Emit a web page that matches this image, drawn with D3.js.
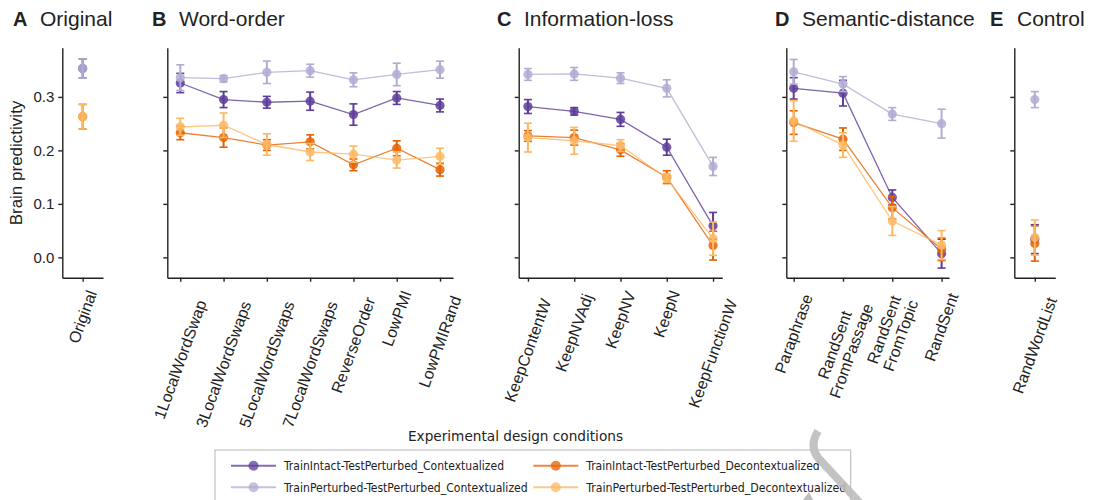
<!DOCTYPE html>
<html>
<head>
<meta charset="utf-8">
<script src="https://cdn.jsdelivr.net/npm/d3@7"></script>
<style>
  body { margin: 0; background: #fff; }
  text { font-family: "Liberation Sans", Arial, Helvetica, sans-serif; fill: #222; }
  .legend text { font-family: "Liberation Sans Narrow", "DejaVu Sans Condensed", "Liberation Sans", sans-serif; }
</style>
</head>
<body>
<svg id="chart" width="1102" height="500"></svg>
<script>
// conditions, grouped into panels
const conditions = ["Original",
  "1LocalWordSwap", "3LocalWordSwaps", "5LocalWordSwaps", "7LocalWordSwaps", "ReverseOrder", "LowPMI", "LowPMIRand",
  "KeepContentW", "KeepNVAdj", "KeepNV", "KeepN", "KeepFunctionW",
  "Paraphrase", "RandSent\nFromPassage", "RandSent\nFromTopic", "RandSent",
  "RandWordList"];
const panelOf = [0, 1,1,1,1,1,1,1, 2,2,2,2,2, 3,3,3,3, 4];
const panelLetters = ["A", "B", "C", "D", "E"];
const panelTitles = ["Original", "Word-order", "Information-loss", "Semantic-distance", "Control"];

const seriesNames = [
  "TrainIntact-TestPerturbed_Contextualized",
  "TrainPerturbed-TestPerturbed_Contextualized",
  "TrainIntact-TestPerturbed_Decontextualized",
  "TrainPerturbed-TestPerturbed_Decontextualized"];

// means and error (half-length) per condition
const tiCtxMean = [0.353, 0.326,0.295,0.290,0.292,0.267,0.298,0.284, 0.282,0.273,0.258,0.206,0.059, 0.316,0.307,0.112,0.007, 0.034];
const tiCtxErr  = [0.018, 0.018,0.015,0.011,0.017,0.020,0.012,0.012, 0.013,0.007,0.013,0.015,0.025, 0.020,0.024,0.014,0.027, 0.027];
const tpCtxMean = [0.353, 0.336,0.334,0.346,0.349,0.332,0.342,0.351, 0.342,0.343,0.335,0.316,0.170, 0.347,0.324,0.268,0.250, 0.295];
const tpCtxErr  = [0.018, 0.024,0.006,0.021,0.012,0.013,0.021,0.016, 0.011,0.012,0.010,0.016,0.017, 0.023,0.014,0.012,0.027, 0.015];
const tiDecMean = [0.263, 0.233,0.224,0.210,0.216,0.173,0.204,0.164, 0.227,0.224,0.201,0.150,0.022, 0.252,0.221,0.093,0.015, 0.026];
const tiDecErr  = [0.023, 0.013,0.018,0.010,0.013,0.011,0.014,0.012, 0.010,0.014,0.012,0.012,0.027, 0.022,0.021,0.021,0.021, 0.033];
const tpDecMean = [0.263, 0.244,0.247,0.211,0.197,0.193,0.182,0.189, 0.224,0.218,0.209,0.148,0.035, 0.255,0.210,0.068,0.023, 0.037];
const tpDecErr  = [0.023, 0.016,0.023,0.020,0.016,0.015,0.015,0.015, 0.027,0.025,0.011,0.008,0.031, 0.038,0.023,0.027,0.027, 0.033];

const yTicks = [0, 0.1, 0.2, 0.3];

const means = [tiCtxMean, tpCtxMean, tiDecMean, tpDecMean];
const errs = [tiCtxErr, tpCtxErr, tiDecErr, tpDecErr];
const colors = ["#5e3c99", "#b2abd2", "#e66101", "#fdb863"];

// layout
const yTop = 47.7, yBottom = 277.7;
const panelX0 = [62.3, 167.3, 518.7, 786.3, 1014.3];
const panelX1 = [103, 453, 722.3, 949, 1055.3];
const panelPad = [0.5, 0.3, 0.2, 0.15, 0.5];
const titleX = [13, 152, 497, 775, 990];

const svg = d3.select("#chart");
const y = d3.scaleLinear().domain([-0.038, 0.392]).range([yBottom, yTop]);

const xScales = panelLetters.map((_, p) => {
  const cats = conditions.filter((c, i) => panelOf[i] === p);
  return d3.scalePoint().domain(cats).range([panelX0[p], panelX1[p]]).padding(panelPad[p]);
});

// axes
panelLetters.forEach((letter, p) => {
  const x = xScales[p];
  const yAxis = svg.append("g")
    .attr("transform", "translate(" + panelX0[p] + ",0)")
    .call(d3.axisLeft(y).tickValues(yTicks).tickSize(4).tickSizeOuter(0)
      .tickFormat(p === 0 ? d3.format(".1f") : () => ""));
  yAxis.selectAll("text").style("font-size", "15px").attr("x", -8);

  svg.append("g")
    .attr("transform", "translate(0," + yBottom + ")")
    .call(d3.axisBottom(x).tickSize(4).tickSizeOuter(0).tickFormat(() => ""));

  // rotated tick labels, centered on the tick; longer labels sit a little lower
  x.domain().forEach(c => {
    const outer = svg.append("g");
    const t = outer.append("text")
      .attr("transform", "rotate(-70)")
      .attr("text-anchor", "middle")
      .style("font-size", "16px");
    c.split("\n").forEach((ln, i) => {
      t.append("tspan").attr("x", 0).attr("dy", i === 0 ? 0 : "1.1em").text(ln);
    });
    const bb = outer.node().getBoundingClientRect();
    const cx = (bb.left + bb.right) / 2;
    const top = 288 + Math.max(0, bb.height - 58) * 0.15;
    outer.attr("transform", "translate(" + (x(c) - cx) + "," + (top - bb.top) + ")");
  });

  // panel title
  svg.append("text").attr("x", titleX[p]).attr("y", 26)
    .style("font-size", "20px").style("font-weight", "bold").text(letter);
  svg.append("text").attr("x", titleX[p] + 27).attr("y", 26)
    .style("font-size", "21px").text(panelTitles[p]);
});

svg.selectAll(".domain, .tick line").attr("stroke", "#222").attr("stroke-width", 1.4);

// y label
svg.append("text")
  .attr("transform", "translate(22,163) rotate(-90)")
  .attr("text-anchor", "middle")
  .style("font-size", "17px")
  .text("Brain predictivity");

// series
seriesNames.forEach((name, s) => {
  const g = svg.append("g");
  panelLetters.forEach((_, p) => {
    const x = xScales[p];
    const idx = conditions.map((c, i) => i).filter(i => panelOf[i] === p);
    const line = d3.line().x(i => x(conditions[i])).y(i => y(means[s][i]));
    g.append("path").datum(idx)
      .attr("d", line)
      .attr("fill", "none")
      .attr("stroke", colors[s])
      .attr("stroke-width", 1.3)
      .attr("opacity", 0.8);
    idx.forEach(i => {
      const cx = x(conditions[i]);
      const lo = y(means[s][i] - errs[s][i]), hi = y(means[s][i] + errs[s][i]);
      g.append("line").attr("x1", cx).attr("x2", cx).attr("y1", lo).attr("y2", hi)
        .attr("stroke", colors[s]).attr("stroke-width", 2);
      [lo, hi].forEach(v => g.append("line")
        .attr("x1", cx - 4).attr("x2", cx + 4).attr("y1", v).attr("y2", v)
        .attr("stroke", colors[s]).attr("stroke-width", 1.6));
      g.append("circle").attr("cx", cx).attr("cy", y(means[s][i])).attr("r", 4.6)
        .attr("fill", colors[s]).attr("opacity", 0.85);
    });
  });
});

// legend
const legend = svg.append("g").attr("class", "legend");
legend.append("text").attr("x", 515.5).attr("y", 441)
  .attr("text-anchor", "middle").style("font-size", "14px")
  .attr("textLength", 215).attr("lengthAdjust", "spacingAndGlyphs")
  .text("Experimental design conditions");
legend.append("rect").attr("x", 215).attr("y", 450).attr("width", 635.7).attr("height", 70)
  .attr("fill", "#fff").attr("stroke", "#b5b5b5").attr("stroke-width", 1);

const legCol = [231, 533.3];
const legRow = [465.7, 487.3];
const legTextLen = [220, 243.7, 233.4, 260];
seriesNames.forEach((name, s) => {
  const cx = legCol[Math.floor(s / 2)], cy = legRow[s % 2];
  legend.append("line").attr("x1", cx).attr("x2", cx + 45).attr("y1", cy).attr("y2", cy)
    .attr("stroke", colors[s]).attr("stroke-width", 2).attr("opacity", 0.75);
  legend.append("circle").attr("cx", cx + 22.5).attr("cy", cy).attr("r", 5)
    .attr("fill", colors[s]).attr("opacity", 0.75);
  legend.append("text").attr("x", cx + 53).attr("y", cy + 4.6)
    .style("font-size", "13px")
    .attr("textLength", legTextLen[s]).attr("lengthAdjust", "spacingAndGlyphs")
    .text(name);
});

// grey watermark stroke at lower right
svg.append("path")
  .attr("d", "M818,431 Q807,449 823,463 L860,503")
  .attr("fill", "none").attr("stroke", "#bdbdbd").attr("stroke-width", 8)
  .attr("opacity", 0.9);
svg.append("path")
  .attr("d", "M803,500 L809,492 L813,500 Z")
  .attr("fill", "#bdbdbd");
</script>
</body>
</html>
